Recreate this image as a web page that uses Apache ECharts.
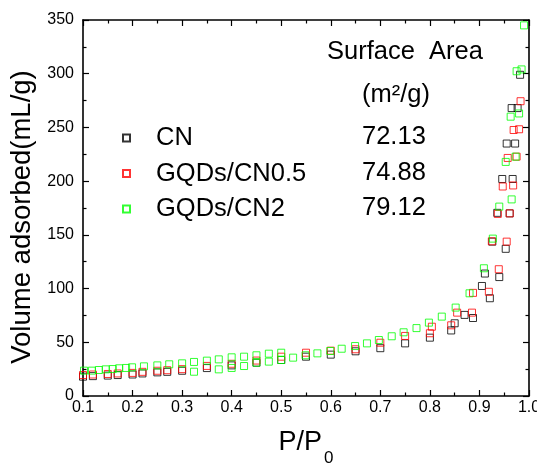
<!DOCTYPE html>
<html>
<head>
<meta charset="utf-8">
<script src="https://cdn.jsdelivr.net/npm/echarts@6/dist/echarts.min.js"></script>
<style>html,body{margin:0;padding:0;background:#fff}#c{width:537px;height:469px}</style>
</head>
<body>
<div id="c"></div>
<script>
// ---- data ----
const seriesNames = ['CN', 'GQDs/CN0.5', 'GQDs/CN2'];
const surfaceAreas = ['72.13', '74.88', '79.12'];
const xTicks = { min: 0.1, max: 1.0, step: 0.1 };
const yTicks = { min: 0, max: 350, step: 50 };

const cnData = [
  [0.10,18],[0.12,18.5],[0.15,19],[0.17,19.5],[0.20,20],[0.22,21],[0.25,22],[0.27,22.5],[0.30,23.5],
  [0.35,26],[0.40,28.5],[0.45,31],[0.50,33.5],[0.55,36.6],[0.60,38.5],[0.65,41.6],[0.70,44.5],
  [0.75,49],[0.80,54.3],[0.843,61],[0.85,67.7],[0.87,75.5],[0.887,72.6],[0.905,102.4],[0.911,114],
  [0.921,91],[0.926,143.7],[0.936,170.5],[0.94,110.7],[0.946,202],[0.953,137],[0.955,235],
  [0.961,170],[0.965,268],[0.967,202],[0.972,235],[0.977,268],[0.982,299]
];
const gqd05Data = [
  [0.10,19.5],[0.12,20],[0.15,20.5],[0.17,21],[0.20,21.5],[0.22,22.5],[0.25,23.5],[0.27,24],[0.30,25],
  [0.35,28],[0.40,30],[0.45,33],[0.50,36.6],[0.55,40.3],[0.60,42.2],[0.65,43.5],[0.70,49.6],
  [0.75,55.9],[0.80,58.4],[0.804,64.5],[0.843,65.8],[0.855,77.6],[0.885,77.6],[0.887,96],[0.919,97],
  [0.925,144],[0.937,169.5],[0.939,118],[0.947,195],[0.955,143.7],[0.957,221.6],[0.961,170],
  [0.968,196],[0.969,247.6],[0.975,222.8],[0.98,248.3],[0.983,274.4]
];
const gqd2Data = [
  [0.102,23.6],[0.118,23.6],[0.132,24.2],[0.146,24.8],[0.16,25.1],[0.173,25.8],[0.187,26.1],[0.199,26.7],
  [0.223,27.6],[0.25,28.5],[0.274,29.5],[0.30,30.4],[0.324,31.7],[0.35,32.9],[0.374,34.1],[0.40,36],
  [0.425,36.6],[0.45,37.9],[0.475,39.4],[0.50,40.3],
  [0.324,22.6],[0.374,24.8],[0.40,26.1],[0.425,27.9],[0.45,31],[0.475,32],[0.50,33.5],
  [0.524,35.7],[0.549,37.9],[0.573,39.7],[0.599,41.9],[0.622,44],[0.649,46.5],[0.673,49],[0.697,52.1],
  [0.723,55.6],[0.747,59.3],[0.773,63.2],[0.798,68.3],[0.824,73.9],[0.852,82.3],[0.88,95.6],
  [0.909,118.9],[0.927,146.5],[0.94,176.3],[0.953,217.9],[0.963,260],[0.965,183],[0.973,222.8],
  [0.975,302.3],[0.98,263],[0.985,304],[0.99,345]
];
const seriesData = [cnData, gqd05Data, gqd2Data];
const seriesColors = ['#000000', '#ff0000', '#00ff00'];

// ---- chart ----
const SANS = '"Liberation Sans",Arial,sans-serif';
const chart = echarts.init(document.getElementById('c'), null, { renderer: 'canvas' });

function xAxisCfg(pos, showLabel) {
  return {
    type: 'value', position: pos, min: xTicks.min, max: xTicks.max, interval: xTicks.step,
    axisLine: { show: true, onZero: false, lineStyle: { color: '#000', width: 1.6 } },
    axisTick: { show: true, inside: true, length: 6, lineStyle: { color: '#000', width: 1.2 } },
    minorTick: { show: true, splitNumber: 2, length: 3.5, lineStyle: { color: '#000', width: 1.2 } },
    splitLine: { show: false },
    axisLabel: { show: showLabel, margin: 4, color: '#000', fontFamily: SANS, fontSize: 16,
      formatter: v => v.toFixed(1) }
  };
}
function yAxisCfg(pos, showLabel) {
  return {
    type: 'value', position: pos, min: yTicks.min, max: yTicks.max, interval: yTicks.step,
    axisLine: { show: true, onZero: false, lineStyle: { color: '#000', width: 1.6 } },
    axisTick: { show: true, inside: true, length: 6, lineStyle: { color: '#000', width: 1.2 } },
    minorTick: { show: true, splitNumber: 2, length: 3.5, lineStyle: { color: '#000', width: 1.2 } },
    splitLine: { show: false },
    axisLabel: { show: showLabel, margin: 9, color: '#000', fontFamily: SANS, fontSize: 16 }
  };
}

const xMain = xAxisCfg('bottom', true);
xMain.name = '{a|P/P}{b|0}';
xMain.nameLocation = 'middle';
xMain.nameGap = 23;
xMain.nameTextStyle = {
  rich: {
    a: { fontFamily: SANS, fontSize: 27, color: '#000', lineHeight: 48, verticalAlign: 'middle' },
    b: { fontFamily: SANS, fontSize: 17, color: '#000', lineHeight: 48, verticalAlign: 'bottom', padding: [0, 0, 0, 2] }
  }
};
const yMain = yAxisCfg('left', true);
yMain.name = 'Volume adsorbed(mL/g)';
yMain.nameLocation = 'middle';
yMain.nameGap = 42;
yMain.nameTextStyle = { fontFamily: SANS, fontSize: 27.5, color: '#000', padding: [0, 18, 0, 0] };

const option = {
  backgroundColor: '#ffffff',
  animation: false,
  grid: { left: 83, right: 8, top: 20, bottom: 73, containLabel: false, outerBoundsMode: 'none' },
  xAxis: [xMain, xAxisCfg('top', false)],
  yAxis: [yMain, yAxisCfg('right', false)],
  legend: {
    data: seriesNames, orient: 'vertical', left: 122, top: 123, padding: 0,
    itemWidth: 7, itemHeight: 7, itemGap: 5.5, icon: 'rect',
    textStyle: { fontFamily: SANS, fontSize: 25.5, color: '#000', lineHeight: 30, padding: [0, 0, 0, 21] }
  },
  series: seriesNames.map((n, i) => ({
    name: n, type: 'scatter', xAxisIndex: 0, yAxisIndex: 0,
    symbol: 'rect', symbolSize: 7,
    itemStyle: { color: 'rgba(255,255,255,0)', borderColor: seriesColors[i], borderWidth: 1 },
    data: seriesData[i]
  })),
  graphic: [
    { type: 'text', left: 327, top: 39, style: { text: 'Surface  Area', fontFamily: SANS, fontSize: 25.5, fill: '#000' } },
    { type: 'text', left: 362, top: 82, style: { text: '(m²/g)', fontFamily: SANS, fontSize: 25.5, fill: '#000' } }
  ].concat(surfaceAreas.map((s, i) => ({
    type: 'text', left: 362, top: [124, 160, 195][i],
    style: { text: s, fontFamily: SANS, fontSize: 25.5, fill: '#000' }
  })))
};
chart.setOption(option);
</script>
</body>
</html>
